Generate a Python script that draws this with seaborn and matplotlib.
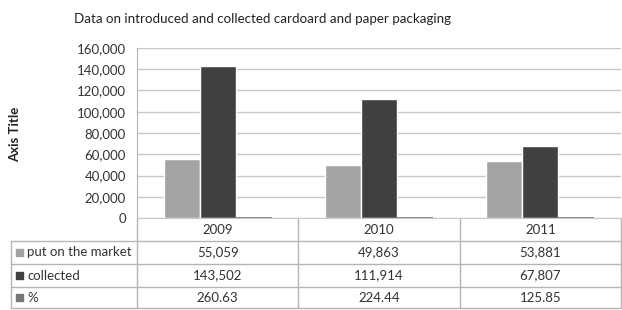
import numpy as np
import pandas as pd
import matplotlib
matplotlib.use("Agg")
import matplotlib.pyplot as plt
import seaborn as sns

years = ["2009", "2010", "2011"]
series = ["put on the market", "collected", "%"]
put_on_market = [55059, 49863, 53881]
collected = [143502, 111914, 67807]
percent = [260.63, 224.44, 125.85]
colors = ["#a3a3a3", "#404040", "#767676"]

df = pd.DataFrame({
    "year": years * 3,
    "series": [s for s in series for _ in years],
    "value": put_on_market + collected + percent,
})

sns.set_style("white")
plt.rcParams["font.family"] = ["Lato", "DejaVu Sans"]

W, H = 622, 310
fig = plt.figure(figsize=(W / 100, H / 100), dpi=100)
L, R, T, B = 137, 621, 48, 218
ax = fig.add_axes([L / W, 1 - B / H, (R - L) / W, (B - T) / H])

sns.barplot(data=df, x="year", y="value", hue="series", palette=colors,
            width=0.67, gap=0, saturation=1, ax=ax, legend=False, errorbar=None)
# the % bars are tiny on this scale; outline them so they show as a thin line
for p in ax.containers[2]:
    p.set_edgecolor(colors[2])
    p.set_linewidth(1.2)

ax.set_xlim(-0.5, 2.5)
ax.set_ylim(0, 160000)
ax.set_yticks(np.arange(0, 160001, 20000))
ax.set_yticklabels([f"{v:,}" for v in range(0, 160001, 20000)], fontsize=9.5, color="#333333")
ax.tick_params(axis="y", length=4, color="#b5b5b5", pad=4)
ax.grid(axis="y", color="#c8c8c8", lw=1)
ax.set_axisbelow(True)
ax.set_xticks([])
ax.set_xlabel("")
ax.set_ylabel("")
for s in ["top", "right"]:
    ax.spines[s].set_visible(False)
ax.spines["left"].set_color("#b5b5b5")
ax.spines["bottom"].set_color("#c8c8c8")

fig.text(262 / W, 1 - 19 / H, "Data on introduced and collected cardoard and paper packaging",
         ha="center", va="center", fontsize=9.6, color="#222222")
fig.text(15 / W, 1 - 134 / H, "Axis Title", rotation=90, ha="center", va="center",
         fontsize=9.5, fontweight="bold", color="#222222")

# data table below the axes
def ay(ypx):
    return (B - ypx) / (B - T)

def axx(xpx):
    return (xpx - L) / (R - L)

xt = ax.get_xaxis_transform()
lc = "#b5b5b5"
rows = [241, 264, 287, 308]
kw = dict(clip_on=False, color=lc, lw=1)
for y in rows:
    ax.plot([axx(11), 1], [ay(y), ay(y)], transform=ax.transAxes, **kw)
ax.plot([axx(11), axx(11)], [ay(241), ay(308)], transform=ax.transAxes, **kw)
for xd in [-0.5, 0.5, 1.5, 2.5]:
    ax.plot([xd, xd], [0, ay(308)], transform=xt, **kw)

for i, yr in enumerate(years):
    ax.text(i, ay(229.5), yr, transform=xt, ha="center", va="center",
            fontsize=9.5, color="#333333")

table_vals = [
    [f"{v:,}" for v in put_on_market],
    [f"{v:,}" for v in collected],
    [f"{v:.2f}" for v in percent],
]
for r, (name, vals) in enumerate(zip(series, table_vals)):
    yc = ay((rows[r] + rows[r + 1]) / 2)
    ax.add_patch(plt.Rectangle((axx(16), yc - 3.5 / (B - T)), 7 / (R - L), 7 / (B - T),
                               transform=ax.transAxes, color=colors[r], clip_on=False))
    ax.text(axx(27), yc, name, transform=ax.transAxes, ha="left", va="center",
            fontsize=9.5, color="#333333")
    for i, v in enumerate(vals):
        ax.text(i, yc, v, transform=xt, ha="center", va="center",
                fontsize=9.5, color="#333333")

fig.savefig("out.png", dpi=100, facecolor="white")
